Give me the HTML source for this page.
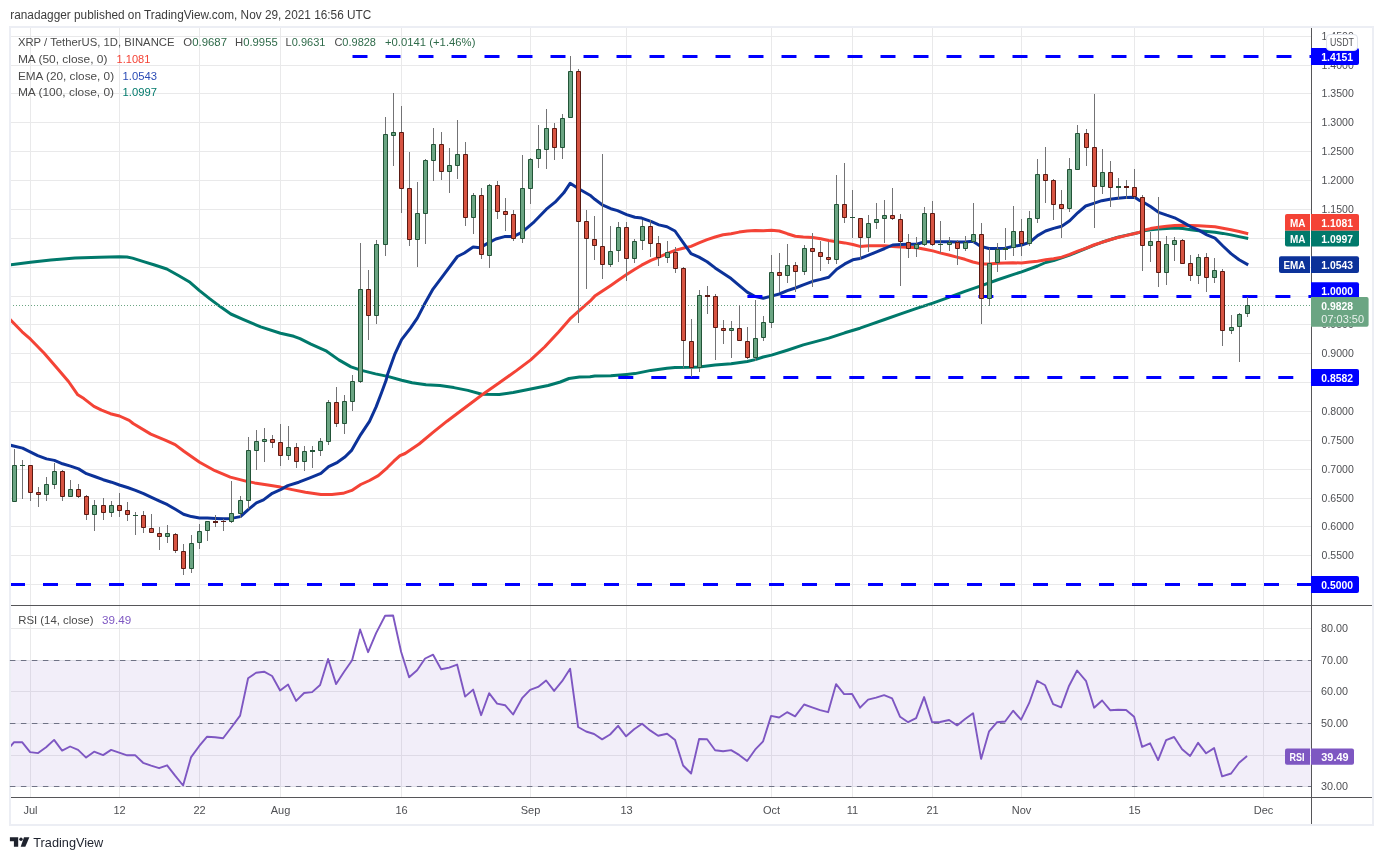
<!DOCTYPE html>
<html lang="en"><head><meta charset="utf-8"><title>XRP / TetherUS chart</title>
<style>html,body{margin:0;padding:0;background:#fff}body{width:1383px;height:860px;overflow:hidden}svg{display:block}</style>
</head><body>
<svg width="1383" height="860" viewBox="0 0 1383 860" font-family='"Liberation Sans", sans-serif'>
<rect width="1383" height="860" fill="#fff"/>
<text x="10.3" y="18.8" font-size="12" fill="#3c3c3c" textLength="361" lengthAdjust="spacingAndGlyphs" >ranadagger published on TradingView.com, Nov 29, 2021 16:56 UTC</text>
<rect x="10" y="27" width="1363" height="798" fill="none" stroke="#eceef4" stroke-width="2"/>
<path d="M30.5 28V797.5 M119.5 28V797.5 M199.5 28V797.5 M280.5 28V797.5 M401.5 28V797.5 M530.5 28V797.5 M626.5 28V797.5 M771.5 28V797.5 M852.5 28V797.5 M932.5 28V797.5 M1021.5 28V797.5 M1134.5 28V797.5 M1263.5 28V797.5 M11 584.5H1311.5 M11 555.5H1311.5 M11 526.5H1311.5 M11 498.5H1311.5 M11 469.5H1311.5 M11 440.5H1311.5 M11 411.5H1311.5 M11 382.5H1311.5 M11 353.5H1311.5 M11 324.5H1311.5 M11 296.5H1311.5 M11 267.5H1311.5 M11 238.5H1311.5 M11 209.5H1311.5 M11 180.5H1311.5 M11 151.5H1311.5 M11 122.5H1311.5 M11 93.5H1311.5 M11 65.5H1311.5 M11 36.5H1311.5 M11 628.5H1311.5 M11 691.5H1311.5 M11 755.5H1311.5" stroke="#e9e9ea" stroke-width="1" fill="none"/>
<rect x="11" y="660.5" width="1300.5" height="126.0" fill="#7e57c2" fill-opacity="0.1"/>
<path d="M11 660.5H1311.5" stroke="#dfdee8" stroke-width="1" fill="none"/>
<path d="M9.9 660.5H1311.5" stroke="#6f7285" stroke-width="1" stroke-dasharray="5.5,5.5" fill="none"/>
<path d="M11 723.5H1311.5" stroke="#dfdee8" stroke-width="1" fill="none"/>
<path d="M9.9 723.5H1311.5" stroke="#6f7285" stroke-width="1" stroke-dasharray="5.5,5.5" fill="none"/>
<path d="M11 786.5H1311.5" stroke="#dfdee8" stroke-width="1" fill="none"/>
<path d="M9.9 786.5H1311.5" stroke="#6f7285" stroke-width="1" stroke-dasharray="5.5,5.5" fill="none"/>
<clipPath id="cp"><rect x="11" y="28" width="1300.0" height="577.5"/></clipPath>
<clipPath id="cr"><rect x="11" y="605.5" width="1300.0" height="192.0"/></clipPath>
<g clip-path="url(#cp)" fill="none" stroke-linejoin="round" stroke-linecap="butt">
<path d="M9.9 265.0 L30.5 262.3 L50.8 259.9 L75.1 258.1 L99.4 257.2 L119.5 256.7 L127.0 257.0 L132.5 258.1 L143.6 261.6 L154.6 265.0 L166.8 269.0 L178.9 275.7 L190.0 282.3 L199.5 290.6 L209.9 298.9 L220.9 307.1 L230.8 314.0 L243.0 319.3 L260.7 326.9 L280.5 333.2 L293.8 336.3 L300.0 338.7 L310.9 344.2 L326.6 351.2 L338.8 359.9 L351.0 366.9 L361.5 370.4 L375.5 373.9 L387.7 376.4 L401.6 380.2 L412.1 382.7 L426.0 384.8 L440.0 385.5 L453.9 387.6 L467.9 390.4 L481.8 394.3 L499.3 394.6 L513.2 392.5 L530.7 389.0 L548.1 385.5 L560.3 382.0 L569.0 378.5 L579.5 377.1 L590.0 376.7 L594.8 376.0 L610.8 375.8 L626.6 374.4 L634.9 373.6 L650.9 370.4 L667.0 368.2 L675.0 367.4 L691.0 367.2 L699.0 366.9 L715.1 365.0 L731.1 363.7 L747.2 361.5 L755.2 359.6 L763.2 357.0 L771.5 355.1 L787.3 350.2 L803.3 344.9 L828.7 338.1 L844.8 332.8 L860.0 328.2 L868.6 325.2 L884.7 319.5 L900.7 313.8 L916.7 308.3 L932.8 303.1 L948.8 297.4 L964.9 291.3 L980.9 285.9 L997.0 280.0 L1013.0 274.6 L1021.6 271.9 L1037.6 266.0 L1045.6 262.5 L1053.6 260.6 L1061.7 257.9 L1069.7 255.2 L1077.7 251.8 L1085.7 248.5 L1093.7 245.3 L1101.8 242.3 L1109.8 239.7 L1117.8 237.2 L1125.8 235.4 L1134.7 233.5 L1140.0 232.4 L1142.5 231.1 L1150.5 229.8 L1158.6 229.1 L1166.7 228.4 L1174.6 227.9 L1182.7 228.6 L1190.8 229.7 L1198.8 230.8 L1206.9 231.5 L1215.0 232.3 L1222.9 233.4 L1231.0 234.9 L1239.1 236.6 L1248.2 238.5" stroke="#00796b" stroke-width="3"/>
<path d="M9.9 319.3 L22.1 331.8 L30.5 339.2 L44.2 353.2 L57.4 368.6 L68.5 381.5 L77.8 394.8 L83.9 398.6 L93.9 406.4 L101.6 410.2 L110.4 413.7 L119.5 416.0 L129.2 420.4 L133.1 423.5 L150.8 434.1 L166.3 440.6 L175.1 444.6 L183.9 451.2 L199.6 462.3 L214.9 470.7 L230.3 477.1 L245.8 481.1 L254.6 482.9 L267.9 484.9 L280.5 487.1 L292.2 489.6 L305.4 492.2 L320.9 494.4 L331.9 494.4 L343.0 493.3 L351.8 490.4 L360.7 484.5 L369.5 480.5 L378.3 475.6 L387.2 467.8 L393.8 461.2 L400.0 455.6 L405.1 453.5 L419.1 444.0 L433.0 432.4 L447.0 421.2 L460.9 410.7 L474.9 400.2 L481.8 395.0 L499.3 382.7 L516.7 370.4 L530.7 359.9 L544.6 347.0 L558.6 331.9 L570.8 318.1 L579.5 310.3 L590.0 301.2 L594.8 296.1 L602.8 290.7 L610.8 285.4 L617.5 280.8 L626.6 274.6 L634.9 269.2 L641.6 265.2 L650.9 260.4 L658.9 257.1 L667.0 253.6 L675.0 250.4 L683.0 248.3 L691.0 246.4 L699.0 242.9 L707.1 239.7 L715.1 237.0 L723.1 234.8 L731.1 233.7 L739.1 232.1 L747.2 231.0 L755.2 230.5 L763.2 230.8 L771.5 230.2 L779.3 231.0 L787.3 233.7 L795.3 236.2 L803.3 237.0 L812.7 237.5 L820.7 238.8 L828.7 240.5 L836.7 241.8 L844.8 242.9 L852.8 244.5 L860.0 246.4 L868.6 245.8 L876.6 245.8 L884.7 245.8 L892.7 246.4 L900.7 246.9 L908.7 247.2 L916.7 247.7 L924.8 249.3 L932.8 250.9 L940.8 253.1 L948.8 255.0 L956.8 257.1 L964.9 259.3 L972.9 262.0 L980.9 263.9 L988.9 263.9 L997.0 263.3 L1005.0 263.0 L1013.0 262.8 L1021.6 263.0 L1029.6 262.0 L1037.6 261.2 L1045.6 259.8 L1053.6 258.7 L1061.7 257.1 L1069.7 254.4 L1077.7 251.2 L1085.7 248.3 L1093.7 245.0 L1101.8 242.3 L1109.8 239.7 L1117.8 237.5 L1125.8 235.6 L1134.7 233.5 L1140.0 232.1 L1142.5 230.5 L1150.5 228.6 L1158.6 227.2 L1166.7 226.2 L1174.6 225.5 L1182.7 225.3 L1190.8 225.5 L1198.8 225.7 L1206.9 226.2 L1215.0 226.8 L1222.9 228.2 L1231.0 229.7 L1239.1 231.5 L1248.2 233.7" stroke="#f44336" stroke-width="3"/>
<path d="M10.4 445.2 L22.6 448.1 L37.7 455.7 L46.5 458.9 L54.4 460.4 L62.5 463.8 L70.5 466.1 L78.6 468.9 L86.5 473.7 L94.6 476.5 L103.2 479.7 L111.5 482.2 L119.4 485.0 L127.5 487.5 L135.5 490.3 L143.6 493.6 L151.5 497.4 L159.6 501.1 L167.5 504.7 L175.4 509.3 L183.5 514.2 L191.4 516.6 L199.5 517.9 L207.4 518.1 L215.5 518.4 L223.4 518.8 L231.5 518.4 L240.4 516.6 L248.5 509.3 L256.4 502.9 L263.5 499.9 L272.3 493.3 L280.5 489.6 L287.8 485.6 L298.8 482.2 L309.9 477.8 L320.9 473.4 L328.6 466.7 L337.5 462.3 L345.2 456.8 L351.8 450.1 L360.7 434.6 L369.5 421.3 L376.1 406.9 L381.6 392.5 L386.1 380.3 L387.7 373.9 L394.6 354.7 L401.6 339.6 L410.3 328.4 L417.3 318.1 L424.3 304.6 L433.0 289.1 L443.5 275.1 L457.4 256.5 L464.4 253.0 L473.1 247.1 L480.1 247.8 L487.1 243.6 L495.8 239.0 L504.5 236.6 L513.2 236.6 L521.9 232.3 L534.2 221.8 L546.4 209.2 L555.1 202.2 L563.8 192.8 L570.1 183.3 L579.5 189.3 L590.0 195.2 L594.8 199.3 L602.8 205.2 L610.8 208.7 L617.5 210.6 L626.6 214.6 L634.9 217.3 L641.6 218.1 L650.9 221.4 L658.9 224.9 L667.0 226.7 L675.0 231.0 L683.0 242.3 L691.0 253.6 L699.0 257.1 L707.1 261.7 L715.1 267.9 L723.1 273.3 L731.1 278.6 L739.1 285.4 L747.2 292.1 L755.2 296.6 L763.2 298.2 L771.5 296.1 L779.3 294.0 L787.3 290.7 L795.3 288.0 L803.3 284.8 L812.7 281.3 L820.7 279.4 L828.7 277.3 L836.7 269.2 L844.8 263.9 L852.8 259.8 L860.0 258.5 L868.6 255.2 L876.6 251.8 L884.7 248.5 L892.7 245.0 L900.7 244.5 L908.7 244.2 L916.7 244.2 L924.8 241.8 L932.8 241.8 L940.8 241.8 L948.8 241.8 L956.8 242.1 L964.9 242.1 L972.9 241.3 L980.9 246.4 L988.9 248.5 L997.0 248.5 L1005.0 248.3 L1013.0 246.4 L1021.6 245.0 L1029.6 242.3 L1037.6 235.6 L1045.6 231.0 L1053.6 228.4 L1061.7 226.2 L1069.7 220.8 L1077.7 212.8 L1085.7 206.0 L1093.7 203.4 L1101.8 200.7 L1109.8 199.3 L1117.8 198.2 L1125.8 197.4 L1134.7 197.2 L1140.0 200.7 L1142.5 201.8 L1150.5 206.5 L1158.6 212.3 L1166.7 215.2 L1174.6 217.8 L1182.7 222.1 L1190.8 226.8 L1198.8 230.1 L1206.9 234.9 L1215.0 238.1 L1222.9 246.0 L1231.0 253.6 L1239.1 259.8 L1248.2 264.9" stroke="#0c3299" stroke-width="3"/>
</g>
<g clip-path="url(#cp)" fill="none" stroke="#0000ff" stroke-width="3" stroke-dasharray="15,18">
<path d="M352.5 56.5H1311.5"/>
<path d="M747.4 296.5H1311.5"/>
<path d="M618.3 377.5H1311.5"/>
<path d="M10.0 584.5H1311.5"/>
</g>
<path d="M13 305.5H1310.5" stroke="#6ba583" stroke-width="1" stroke-dasharray="1,2" fill="none"/>
<g clip-path="url(#cp)">
<path d="M14.5 449V502 M22.5 460V499 M30.5 465V501 M38.5 487V507 M46.5 477V501 M54.5 463V489 M62.5 470V501 M70.5 480V497 M78.5 484V498 M86.5 495V520 M94.5 500V531 M103.5 498V520 M111.5 501V517 M119.5 493V517 M127.5 502V521 M135.5 512V535 M143.5 511V533 M151.5 514V533 M159.5 527V550 M167.5 525V543 M175.5 533V553 M183.5 544V575 M191.5 535V573 M199.5 524V549 M207.5 521V541 M215.5 515V527 M223.5 519V531 M231.5 481V523 M240.5 496V518 M248.5 437V509 M256.5 430V470 M264.5 428V462 M272.5 435V448 M280.5 424V466 M288.5 426V460 M296.5 443V468 M304.5 446V471 M312.5 446V468 M320.5 438V456 M328.5 400V445 M336.5 387V427 M344.5 395V434 M352.5 375V411 M360.5 243V383 M368.5 270V340 M376.5 240V324 M385.5 117V256 M393.5 93V166 M401.5 106V213 M409.5 152V246 M417.5 182V267 M425.5 159V244 M433.5 128V181 M441.5 132V180 M449.5 148V193 M457.5 120V179 M465.5 142V226 M473.5 193V234 M481.5 188V259 M489.5 184V268 M497.5 181V219 M505.5 198V231 M513.5 210V241 M522.5 155V243 M530.5 158V204 M538.5 125V168 M546.5 109V169 M554.5 123V160 M562.5 114V159 M570.5 56V118 M578.5 69V323 M586.5 210V289 M594.5 216V260 M602.5 154V279 M610.5 226V267 M618.5 222V262 M626.5 222V281 M634.5 239V263 M642.5 220V250 M650.5 220V257 M658.5 236V266 M667.5 241V263 M675.5 247V273 M683.5 267V368 M691.5 319V377 M699.5 290V372 M707.5 286V314 M715.5 294V360 M723.5 320V344 M731.5 321V358 M739.5 305V341 M747.5 327V359 M755.5 300V361 M763.5 316V341 M771.5 255V328 M779.5 253V292 M787.5 244V283 M795.5 262V292 M804.5 245V275 M812.5 233V287 M820.5 241V271 M828.5 242V264 M836.5 175V264 M844.5 163V223 M852.5 190V238 M860.5 218V260 M868.5 215V252 M876.5 203V229 M884.5 200V243 M892.5 188V220 M900.5 214V286 M908.5 234V258 M916.5 237V257 M924.5 207V246 M932.5 201V246 M940.5 221V253 M949.5 237V251 M957.5 240V265 M965.5 236V251 M973.5 203V243 M981.5 223V324 M989.5 248V306 M997.5 243V272 M1005.5 228V260 M1013.5 206V256 M1021.5 219V256 M1029.5 211V246 M1037.5 159V223 M1045.5 147V203 M1053.5 179V220 M1061.5 190V238 M1069.5 158V212 M1077.5 125V170 M1086.5 129V166 M1094.5 94V228 M1102.5 149V194 M1110.5 161V207 M1118.5 178V199 M1126.5 180V199 M1134.5 169V199 M1142.5 195V271 M1150.5 232V262 M1158.5 197V287 M1166.5 236V285 M1174.5 237V261 M1182.5 239V264 M1190.5 255V281 M1198.5 254V284 M1206.5 253V292 M1214.5 258V283 M1222.5 269V346 M1231.5 315V334 M1239.5 313V362 M1247.5 297V317" stroke="#737375" stroke-width="1" fill="none"/>
<path d="M12.5 465.5H16.5V501.5H12.5Z M44.5 484.5H48.5V494.5H44.5Z M52.5 471.5H56.5V484.5H52.5Z M68.5 489.5H72.5V496.5H68.5Z M92.5 505.5H96.5V514.5H92.5Z M109.5 505.5H113.5V512.5H109.5Z M165.5 533.5H169.5V536.5H165.5Z M189.5 543.5H193.5V568.5H189.5Z M197.5 531.5H201.5V542.5H197.5Z M205.5 521.5H209.5V530.5H205.5Z M229.5 513.5H233.5V521.5H229.5Z M238.5 500.5H242.5V513.5H238.5Z M246.5 450.5H250.5V500.5H246.5Z M254.5 441.5H258.5V450.5H254.5Z M262.5 439.5H266.5V441.5H262.5Z M286.5 447.5H290.5V455.5H286.5Z M302.5 451.5H306.5V461.5H302.5Z M318.5 441.5H322.5V450.5H318.5Z M326.5 402.5H330.5V441.5H326.5Z M342.5 401.5H346.5V423.5H342.5Z M350.5 381.5H354.5V401.5H350.5Z M358.5 289.5H362.5V381.5H358.5Z M374.5 244.5H378.5V315.5H374.5Z M383.5 134.5H387.5V244.5H383.5Z M391.5 132.5H395.5V135.5H391.5Z M415.5 213.5H419.5V239.5H415.5Z M423.5 160.5H427.5V213.5H423.5Z M431.5 144.5H435.5V160.5H431.5Z M447.5 165.5H451.5V171.5H447.5Z M455.5 154.5H459.5V165.5H455.5Z M471.5 195.5H475.5V217.5H471.5Z M487.5 185.5H491.5V255.5H487.5Z M520.5 188.5H524.5V238.5H520.5Z M528.5 159.5H532.5V188.5H528.5Z M536.5 149.5H540.5V158.5H536.5Z M544.5 128.5H548.5V149.5H544.5Z M560.5 118.5H564.5V147.5H560.5Z M568.5 71.5H572.5V117.5H568.5Z M608.5 251.5H612.5V264.5H608.5Z M616.5 227.5H620.5V250.5H616.5Z M632.5 241.5H636.5V258.5H632.5Z M640.5 226.5H644.5V240.5H640.5Z M665.5 252.5H669.5V257.5H665.5Z M697.5 295.5H701.5V367.5H697.5Z M729.5 328.5H733.5V330.5H729.5Z M753.5 338.5H757.5V357.5H753.5Z M761.5 322.5H765.5V337.5H761.5Z M769.5 272.5H773.5V322.5H769.5Z M785.5 265.5H789.5V275.5H785.5Z M802.5 248.5H806.5V271.5H802.5Z M834.5 204.5H838.5V259.5H834.5Z M866.5 223.5H870.5V237.5H866.5Z M874.5 219.5H878.5V222.5H874.5Z M882.5 215.5H886.5V218.5H882.5Z M914.5 244.5H918.5V248.5H914.5Z M922.5 213.5H926.5V244.5H922.5Z M947.5 242.5H951.5V244.5H947.5Z M963.5 242.5H967.5V248.5H963.5Z M971.5 234.5H975.5V241.5H971.5Z M987.5 263.5H991.5V298.5H987.5Z M995.5 249.5H999.5V262.5H995.5Z M1011.5 231.5H1015.5V247.5H1011.5Z M1027.5 218.5H1031.5V243.5H1027.5Z M1035.5 174.5H1039.5V218.5H1035.5Z M1067.5 169.5H1071.5V208.5H1067.5Z M1075.5 133.5H1079.5V169.5H1075.5Z M1100.5 172.5H1104.5V186.5H1100.5Z M1148.5 241.5H1152.5V245.5H1148.5Z M1164.5 244.5H1168.5V272.5H1164.5Z M1172.5 240.5H1176.5V244.5H1172.5Z M1196.5 257.5H1200.5V275.5H1196.5Z M1212.5 270.5H1216.5V277.5H1212.5Z M1229.5 327.5H1233.5V330.5H1229.5Z M1237.5 314.5H1241.5V326.5H1237.5Z M1245.5 305.5H1249.5V313.5H1245.5Z" fill="#6ba583" stroke="#225437" stroke-width="1"/>
<path d="M28.5 465.5H32.5V492.5H28.5Z M36.5 492.5H40.5V494.5H36.5Z M60.5 471.5H64.5V496.5H60.5Z M76.5 489.5H80.5V496.5H76.5Z M84.5 496.5H88.5V514.5H84.5Z M101.5 505.5H105.5V512.5H101.5Z M117.5 505.5H121.5V510.5H117.5Z M125.5 510.5H129.5V514.5H125.5Z M141.5 515.5H145.5V527.5H141.5Z M149.5 528.5H153.5V532.5H149.5Z M157.5 533.5H161.5V536.5H157.5Z M173.5 534.5H177.5V550.5H173.5Z M181.5 551.5H185.5V568.5H181.5Z M270.5 439.5H274.5V442.5H270.5Z M278.5 442.5H282.5V455.5H278.5Z M294.5 447.5H298.5V461.5H294.5Z M334.5 402.5H338.5V423.5H334.5Z M366.5 289.5H370.5V315.5H366.5Z M399.5 132.5H403.5V188.5H399.5Z M407.5 188.5H411.5V239.5H407.5Z M439.5 144.5H443.5V171.5H439.5Z M463.5 154.5H467.5V217.5H463.5Z M479.5 195.5H483.5V254.5H479.5Z M495.5 185.5H499.5V211.5H495.5Z M503.5 211.5H507.5V214.5H503.5Z M511.5 214.5H515.5V238.5H511.5Z M552.5 128.5H556.5V147.5H552.5Z M576.5 71.5H580.5V221.5H576.5Z M584.5 221.5H588.5V238.5H584.5Z M592.5 239.5H596.5V245.5H592.5Z M600.5 246.5H604.5V264.5H600.5Z M624.5 227.5H628.5V258.5H624.5Z M648.5 226.5H652.5V243.5H648.5Z M656.5 243.5H660.5V257.5H656.5Z M673.5 252.5H677.5V268.5H673.5Z M681.5 268.5H685.5V340.5H681.5Z M689.5 341.5H693.5V367.5H689.5Z M713.5 296.5H717.5V327.5H713.5Z M721.5 328.5H725.5V330.5H721.5Z M737.5 328.5H741.5V340.5H737.5Z M745.5 341.5H749.5V357.5H745.5Z M777.5 272.5H781.5V275.5H777.5Z M793.5 265.5H797.5V271.5H793.5Z M810.5 248.5H814.5V251.5H810.5Z M818.5 252.5H822.5V256.5H818.5Z M826.5 257.5H830.5V259.5H826.5Z M842.5 204.5H846.5V217.5H842.5Z M858.5 218.5H862.5V237.5H858.5Z M890.5 215.5H894.5V218.5H890.5Z M898.5 219.5H902.5V241.5H898.5Z M906.5 242.5H910.5V248.5H906.5Z M930.5 213.5H934.5V244.5H930.5Z M955.5 242.5H959.5V248.5H955.5Z M979.5 234.5H983.5V298.5H979.5Z M1019.5 231.5H1023.5V243.5H1019.5Z M1043.5 174.5H1047.5V180.5H1043.5Z M1051.5 180.5H1055.5V204.5H1051.5Z M1059.5 204.5H1063.5V208.5H1059.5Z M1084.5 133.5H1088.5V147.5H1084.5Z M1092.5 147.5H1096.5V186.5H1092.5Z M1108.5 172.5H1112.5V187.5H1108.5Z M1132.5 187.5H1136.5V196.5H1132.5Z M1140.5 197.5H1144.5V245.5H1140.5Z M1156.5 241.5H1160.5V272.5H1156.5Z M1180.5 240.5H1184.5V263.5H1180.5Z M1188.5 263.5H1192.5V275.5H1188.5Z M1204.5 257.5H1208.5V277.5H1204.5Z M1220.5 271.5H1224.5V330.5H1220.5Z" fill="#d75442" stroke="#5b1a13" stroke-width="1"/>
<path d="M20 465H25V466H20Z M133 515H138V516H133Z M310 450H315V452H310Z M850 217H855V218H850Z M938 244H943V245H938Z M1003 248H1008V250H1003Z M1116 186H1121V188H1116Z" fill="#225437" stroke="none"/>
<path d="M213 521H218V523H213Z M221 521H226V522H221Z M705 295H710V297H705Z M1124 186H1129V188H1124Z" fill="#5b1a13" stroke="none"/>
</g>
<g clip-path="url(#cr)">
<path d="M6.1 751.5 L14.1 742.2 L22.1 742.2 L30.1 752.1 L38.1 753.1 L46.1 747.2 L54.1 739.9 L62.1 750.6 L70.1 746.5 L78.1 749.9 L86.1 757.6 L94.1 751.7 L103.1 755.1 L111.1 749.9 L119.1 752.6 L127.1 755.3 L135.1 755.1 L143.1 762.8 L151.1 765.7 L159.1 768.2 L167.1 765.3 L175.1 775.7 L183.1 785.5 L191.1 757.1 L199.1 746.2 L207.1 736.7 L215.1 737.2 L223.1 738.3 L231.1 727.7 L240.1 715.6 L248.1 678.2 L256.1 672.8 L264.1 671.7 L272.1 676.0 L280.1 690.5 L288.1 684.6 L296.1 700.9 L304.1 693.0 L312.1 692.1 L320.1 685.0 L328.1 659.0 L336.1 684.1 L344.1 671.7 L352.1 660.3 L360.1 629.5 L368.1 652.2 L376.1 633.1 L385.1 615.7 L393.1 615.5 L401.1 651.7 L409.1 677.3 L417.1 670.3 L425.1 658.5 L433.1 654.7 L441.1 669.2 L449.1 667.6 L457.1 664.6 L465.1 696.6 L473.1 689.6 L481.1 715.2 L489.1 693.2 L497.1 703.6 L505.1 705.2 L513.1 714.5 L522.1 698.2 L530.1 689.8 L538.1 686.9 L546.1 680.5 L554.1 690.9 L562.1 681.2 L570.1 668.7 L578.1 727.0 L586.1 731.5 L594.1 734.0 L602.1 739.4 L610.1 734.5 L618.1 725.8 L626.1 736.3 L634.1 729.2 L642.1 723.8 L650.1 730.4 L658.1 735.8 L667.1 733.8 L675.1 740.1 L683.1 765.5 L691.1 773.5 L699.1 739.0 L707.1 739.2 L715.1 750.3 L723.1 751.2 L731.1 750.1 L739.1 754.9 L747.1 761.0 L755.1 749.7 L763.1 741.3 L771.1 715.9 L779.1 717.5 L787.1 712.2 L795.1 716.3 L804.1 704.5 L812.1 707.3 L820.1 710.2 L828.1 712.2 L836.1 684.1 L844.1 694.1 L852.1 693.9 L860.1 707.7 L868.1 699.6 L876.1 697.7 L884.1 695.2 L892.1 698.4 L900.1 716.8 L908.1 722.2 L916.1 718.1 L924.1 697.1 L932.1 722.2 L940.1 722.0 L949.1 720.0 L957.1 725.4 L965.1 719.0 L973.1 713.2 L981.1 758.9 L989.1 731.3 L997.1 722.2 L1005.1 721.5 L1013.1 710.7 L1021.1 719.7 L1029.1 703.2 L1037.1 680.7 L1045.1 685.3 L1053.1 704.1 L1061.1 707.3 L1069.1 685.7 L1077.1 670.5 L1086.1 681.2 L1094.1 707.7 L1102.1 700.5 L1110.1 710.2 L1118.1 709.8 L1126.1 710.0 L1134.1 716.8 L1142.1 746.9 L1150.1 743.3 L1158.1 760.1 L1166.1 740.1 L1174.1 737.0 L1182.1 749.2 L1190.1 756.0 L1198.1 742.8 L1206.1 753.3 L1214.1 748.1 L1222.1 776.4 L1231.1 773.5 L1239.1 762.8 L1247.1 756.0" stroke="#7e57c2" stroke-width="1.9" fill="none" stroke-linejoin="round"/>
</g>
<path d="M1311.5 28V824 M11 605.5H1372 M11 797.5H1372" stroke="#565659" stroke-width="1" fill="none"/>
<text x="1321.6" y="587.9" font-size="11" fill="#4e4f53" textLength="32.2" lengthAdjust="spacingAndGlyphs" >0.5000</text>
<text x="1321.6" y="558.9" font-size="11" fill="#4e4f53" textLength="32.2" lengthAdjust="spacingAndGlyphs" >0.5500</text>
<text x="1321.6" y="529.9" font-size="11" fill="#4e4f53" textLength="32.2" lengthAdjust="spacingAndGlyphs" >0.6000</text>
<text x="1321.6" y="501.9" font-size="11" fill="#4e4f53" textLength="32.2" lengthAdjust="spacingAndGlyphs" >0.6500</text>
<text x="1321.6" y="472.9" font-size="11" fill="#4e4f53" textLength="32.2" lengthAdjust="spacingAndGlyphs" >0.7000</text>
<text x="1321.6" y="443.9" font-size="11" fill="#4e4f53" textLength="32.2" lengthAdjust="spacingAndGlyphs" >0.7500</text>
<text x="1321.6" y="414.9" font-size="11" fill="#4e4f53" textLength="32.2" lengthAdjust="spacingAndGlyphs" >0.8000</text>
<text x="1321.6" y="385.9" font-size="11" fill="#4e4f53" textLength="32.2" lengthAdjust="spacingAndGlyphs" >0.8500</text>
<text x="1321.6" y="356.9" font-size="11" fill="#4e4f53" textLength="32.2" lengthAdjust="spacingAndGlyphs" >0.9000</text>
<text x="1321.6" y="327.9" font-size="11" fill="#4e4f53" textLength="32.2" lengthAdjust="spacingAndGlyphs" >0.9500</text>
<text x="1321.6" y="299.9" font-size="11" fill="#4e4f53" textLength="32.2" lengthAdjust="spacingAndGlyphs" >1.0000</text>
<text x="1321.6" y="270.9" font-size="11" fill="#4e4f53" textLength="32.2" lengthAdjust="spacingAndGlyphs" >1.0500</text>
<text x="1321.6" y="241.9" font-size="11" fill="#4e4f53" textLength="32.2" lengthAdjust="spacingAndGlyphs" >1.1000</text>
<text x="1321.6" y="212.9" font-size="11" fill="#4e4f53" textLength="32.2" lengthAdjust="spacingAndGlyphs" >1.1500</text>
<text x="1321.6" y="183.9" font-size="11" fill="#4e4f53" textLength="32.2" lengthAdjust="spacingAndGlyphs" >1.2000</text>
<text x="1321.6" y="154.9" font-size="11" fill="#4e4f53" textLength="32.2" lengthAdjust="spacingAndGlyphs" >1.2500</text>
<text x="1321.6" y="125.9" font-size="11" fill="#4e4f53" textLength="32.2" lengthAdjust="spacingAndGlyphs" >1.3000</text>
<text x="1321.6" y="96.9" font-size="11" fill="#4e4f53" textLength="32.2" lengthAdjust="spacingAndGlyphs" >1.3500</text>
<text x="1321.6" y="68.9" font-size="11" fill="#4e4f53" textLength="32.2" lengthAdjust="spacingAndGlyphs" >1.4000</text>
<text x="1321.6" y="39.9" font-size="11" fill="#4e4f53" textLength="32.2" lengthAdjust="spacingAndGlyphs" >1.4500</text>
<text x="1321" y="631.9" font-size="11" fill="#4e4f53" textLength="27" lengthAdjust="spacingAndGlyphs" >80.00</text>
<text x="1321" y="663.9" font-size="11" fill="#4e4f53" textLength="27" lengthAdjust="spacingAndGlyphs" >70.00</text>
<text x="1321" y="694.9" font-size="11" fill="#4e4f53" textLength="27" lengthAdjust="spacingAndGlyphs" >60.00</text>
<text x="1321" y="726.9" font-size="11" fill="#4e4f53" textLength="27" lengthAdjust="spacingAndGlyphs" >50.00</text>
<text x="1321" y="789.9" font-size="11" fill="#4e4f53" textLength="27" lengthAdjust="spacingAndGlyphs" >30.00</text>
<path d="M1311.0 48.0H1357a2 2 0 0 1 2 2V63.0a2 2 0 0 1 -2 2H1311.0Z" fill="#0000ff"/>
<text x="1321.3" y="60.7" font-size="11.5" fill="#fff" font-weight="bold" textLength="31.7" lengthAdjust="spacingAndGlyphs" >1.4151</text>
<path d="M1311.0 369.0H1357a2 2 0 0 1 2 2V384.0a2 2 0 0 1 -2 2H1311.0Z" fill="#0000ff"/>
<text x="1321.3" y="381.7" font-size="11.5" fill="#fff" font-weight="bold" textLength="31.7" lengthAdjust="spacingAndGlyphs" >0.8582</text>
<path d="M1311.0 576.0H1357a2 2 0 0 1 2 2V591.0a2 2 0 0 1 -2 2H1311.0Z" fill="#0000ff"/>
<text x="1321.3" y="588.7" font-size="11.5" fill="#fff" font-weight="bold" textLength="31.7" lengthAdjust="spacingAndGlyphs" >0.5000</text>
<path d="M1311.0 282.3H1357a2 2 0 0 1 2 2V297a2 2 0 0 1 -2 2H1311.0Z" fill="#0000ff"/>
<text x="1321.3" y="294.84999999999997" font-size="11.5" fill="#fff" font-weight="bold" textLength="31.7" lengthAdjust="spacingAndGlyphs" >1.0000</text>
<path d="M1311.0 214H1357a2 2 0 0 1 2 2V230.7H1311.0Z" fill="#f44336"/>
<text x="1321.3" y="226.54999999999998" font-size="11.5" fill="#fff" font-weight="bold" textLength="31.7" lengthAdjust="spacingAndGlyphs" >1.1081</text>
<path d="M1287 214H1310.0V230.7H1285V216a2 2 0 0 1 2 -2Z" fill="#f44336"/>
<text x="1290" y="226.5" font-size="11" fill="#fff" font-weight="bold" textLength="15.5" lengthAdjust="spacingAndGlyphs" >MA</text>
<path d="M1311.0 230.7H1359V244.6a2 2 0 0 1 -2 2H1311.0Z" fill="#00796b"/>
<text x="1321.3" y="242.84999999999997" font-size="11.5" fill="#fff" font-weight="bold" textLength="31.7" lengthAdjust="spacingAndGlyphs" >1.0997</text>
<path d="M1285 230.7H1310.0V246.6H1287a2 2 0 0 1 -2 -2V230.7Z" fill="#00796b"/>
<text x="1290" y="242.8" font-size="11" fill="#fff" font-weight="bold" textLength="15.5" lengthAdjust="spacingAndGlyphs" >MA</text>
<path d="M1311.0 256.3H1357a2 2 0 0 1 2 2V271a2 2 0 0 1 -2 2H1311.0Z" fill="#0c3299"/>
<text x="1321.3" y="268.84999999999997" font-size="11.5" fill="#fff" font-weight="bold" textLength="31.7" lengthAdjust="spacingAndGlyphs" >1.0543</text>
<path d="M1281 256.3H1310.0V273H1281a2 2 0 0 1 -2 -2V258.3a2 2 0 0 1 2 -2Z" fill="#0c3299"/>
<text x="1283.5" y="268.8" font-size="11" fill="#fff" font-weight="bold" textLength="22" lengthAdjust="spacingAndGlyphs" >EMA</text>
<path d="M1311.0 297H1366.6a2 2 0 0 1 2 2V324.7a2 2 0 0 1 -2 2H1311.0Z" fill="#6ba583"/>
<text x="1321.3" y="310" font-size="11.5" fill="#fff" font-weight="bold" textLength="31.7" lengthAdjust="spacingAndGlyphs" >0.9828</text>
<text x="1321.3" y="323" font-size="11" fill="#fff" textLength="42.8" lengthAdjust="spacingAndGlyphs" fill-opacity="0.85">07:03:50</text>
<path d="M1311.0 748.5H1352a2 2 0 0 1 2 2V762.8a2 2 0 0 1 -2 2H1311.0Z" fill="#7e57c2"/>
<text x="1321.3" y="760.85" font-size="11.5" fill="#fff" font-weight="bold" textLength="27.2" lengthAdjust="spacingAndGlyphs" >39.49</text>
<path d="M1287 748.5H1310.0V764.8H1287a2 2 0 0 1 -2 -2V750.5a2 2 0 0 1 2 -2Z" fill="#7e57c2"/>
<text x="1289.5" y="760.8" font-size="11" fill="#fff" font-weight="bold" textLength="15" lengthAdjust="spacingAndGlyphs" >RSI</text>
<rect x="1326.5" y="34.5" width="31" height="16" rx="3.5" fill="#fff" stroke="#e0e3eb"/>
<text x="1330" y="46.3" font-size="11" fill="#4e4f53" textLength="24" lengthAdjust="spacingAndGlyphs" >USDT</text>
<text x="30.5" y="814.4" font-size="11" fill="#4e4f53" text-anchor="middle" >Jul</text>
<text x="119.5" y="814.4" font-size="11" fill="#4e4f53" text-anchor="middle" >12</text>
<text x="199.5" y="814.4" font-size="11" fill="#4e4f53" text-anchor="middle" >22</text>
<text x="280.5" y="814.4" font-size="11" fill="#4e4f53" text-anchor="middle" >Aug</text>
<text x="401.5" y="814.4" font-size="11" fill="#4e4f53" text-anchor="middle" >16</text>
<text x="530.5" y="814.4" font-size="11" fill="#4e4f53" text-anchor="middle" >Sep</text>
<text x="626.5" y="814.4" font-size="11" fill="#4e4f53" text-anchor="middle" >13</text>
<text x="771.5" y="814.4" font-size="11" fill="#4e4f53" text-anchor="middle" >Oct</text>
<text x="852.5" y="814.4" font-size="11" fill="#4e4f53" text-anchor="middle" >11</text>
<text x="932.5" y="814.4" font-size="11" fill="#4e4f53" text-anchor="middle" >21</text>
<text x="1021.5" y="814.4" font-size="11" fill="#4e4f53" text-anchor="middle" >Nov</text>
<text x="1134.5" y="814.4" font-size="11" fill="#4e4f53" text-anchor="middle" >15</text>
<text x="1263.5" y="814.4" font-size="11" fill="#4e4f53" text-anchor="middle" >Dec</text>
<text x="17.9" y="45.7" font-size="11.5" fill="#4a4a4a" textLength="156.6" lengthAdjust="spacingAndGlyphs" >XRP / TetherUS, 1D, BINANCE</text>
<text x="183.3" y="45.7" font-size="11.5" textLength="43.7" lengthAdjust="spacingAndGlyphs"><tspan fill="#4a4a4a">O</tspan><tspan fill="#2f6b4a">0.9687</tspan></text>
<text x="235" y="45.7" font-size="11.5" textLength="42.7" lengthAdjust="spacingAndGlyphs"><tspan fill="#4a4a4a">H</tspan><tspan fill="#2f6b4a">0.9955</tspan></text>
<text x="285.6" y="45.7" font-size="11.5" textLength="39.8" lengthAdjust="spacingAndGlyphs"><tspan fill="#4a4a4a">L</tspan><tspan fill="#2f6b4a">0.9631</tspan></text>
<text x="334.4" y="45.7" font-size="11.5" textLength="41.6" lengthAdjust="spacingAndGlyphs"><tspan fill="#4a4a4a">C</tspan><tspan fill="#2f6b4a">0.9828</tspan></text>
<text x="385" y="45.7" font-size="11.5" fill="#2f6b4a" textLength="90.4" lengthAdjust="spacingAndGlyphs" >+0.0141 (+1.46%)</text>
<text x="17.9" y="62.6" font-size="11.5" fill="#4a4a4a" textLength="89.6" lengthAdjust="spacingAndGlyphs" >MA (50, close, 0)</text>
<text x="116.6" y="62.6" font-size="11.5" fill="#f44336" textLength="33.8" lengthAdjust="spacingAndGlyphs" >1.1081</text>
<text x="17.9" y="79.5" font-size="11.5" fill="#4a4a4a" textLength="96.2" lengthAdjust="spacingAndGlyphs" >EMA (20, close, 0)</text>
<text x="122.6" y="79.5" font-size="11.5" fill="#2a4bb5" textLength="34.4" lengthAdjust="spacingAndGlyphs" >1.0543</text>
<text x="17.9" y="96.4" font-size="11.5" fill="#4a4a4a" textLength="96.2" lengthAdjust="spacingAndGlyphs" >MA (100, close, 0)</text>
<text x="122.6" y="96.4" font-size="11.5" fill="#00796b" textLength="34.4" lengthAdjust="spacingAndGlyphs" >1.0997</text>
<text x="18.2" y="623.9" font-size="11.5" fill="#4a4a4a" textLength="75.3" lengthAdjust="spacingAndGlyphs" >RSI (14, close)</text>
<text x="102" y="623.9" font-size="11.5" fill="#7e57c2" textLength="29.2" lengthAdjust="spacingAndGlyphs" >39.49</text>
<g fill="#1e222d">
<path d="M9.9 837.2h8.3v9.6h-4.3v-5.6h-4z"/>
<circle cx="21" cy="839.2" r="1.7"/>
<path d="M24 837.2h5.4l-4.1 9.6h-4.6z"/>
</g>
<text x="33.3" y="846.8" font-size="13" fill="#1e222d" textLength="70" lengthAdjust="spacingAndGlyphs" >TradingView</text>
</svg>
</body></html>
